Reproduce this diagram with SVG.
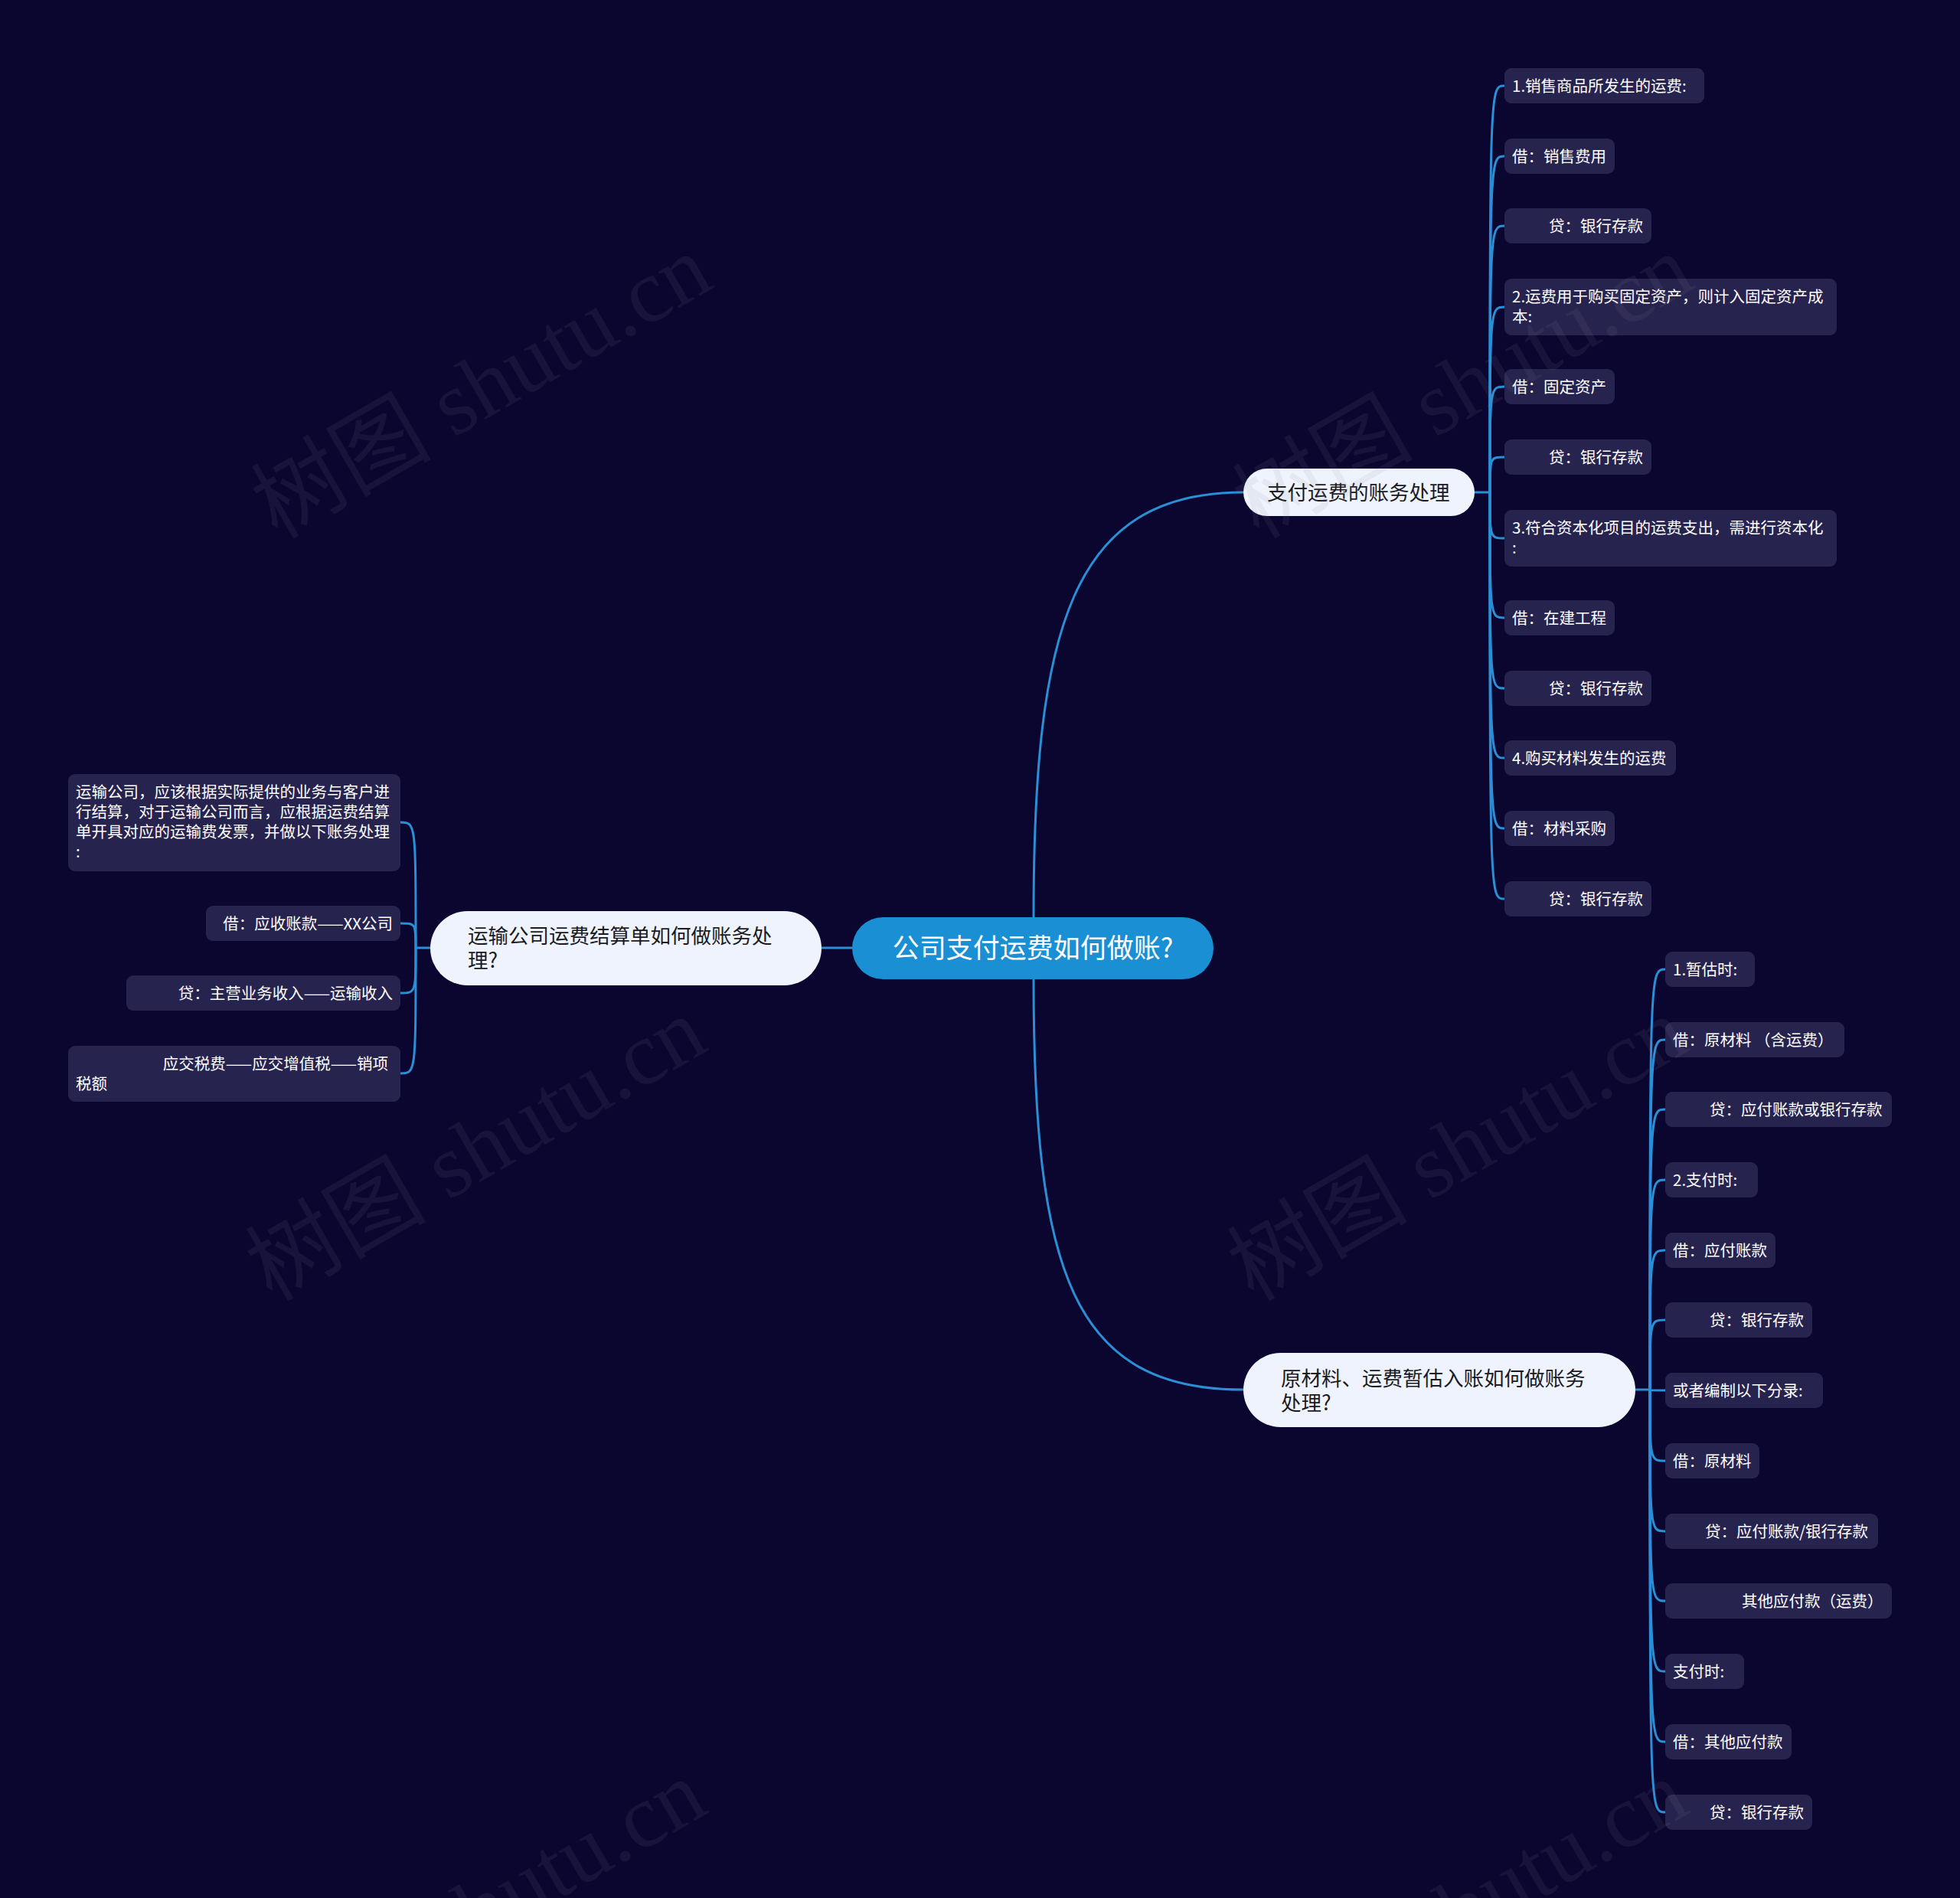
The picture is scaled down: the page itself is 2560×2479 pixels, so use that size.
<svg xmlns="http://www.w3.org/2000/svg" width="2560" height="2479" viewBox="0 0 2560 2479">
<defs>
<style>
.bg{fill:#0b0630}
.leaf{fill:#27234f}
.lt{font-family:"Noto Sans CJK SC","Noto Sans",sans-serif;font-size:20.5px;fill:#ffffff}
.br{fill:#eef3fd}
.bt{font-family:"Noto Sans CJK SC","Noto Sans",sans-serif;font-size:26.5px;fill:#1b1b1f}
.conn{fill:none;stroke:#2b8fd6;stroke-width:3}
.wm{font-family:"Liberation Serif","Noto Sans CJK SC",serif;font-size:118px;fill:#8a8a9a;fill-opacity:0.1}
</style>
</defs>
<rect class="bg" x="0" y="0" width="2560" height="2479"/>

<g id="connectors">
<path class="conn" d="M1350 1198 C1350 820 1400 643 1624 643"/>
<path class="conn" d="M1350 1279 C1350 1660 1400 1815 1624 1815"/>
<path class="conn" d="M1113 1238 H1073"/>
<path class="conn" d="M1926 643 H1946"/>
<path class="conn" d="M1946 643 C1946 112 1946 112 1965 112"/>
<path class="conn" d="M1946 643 C1946 204 1946 204 1965 204"/>
<path class="conn" d="M1946 643 C1946 295 1946 295 1965 295"/>
<path class="conn" d="M1946 643 C1946 401 1946 401 1965 401"/>
<path class="conn" d="M1946 643 C1946 505 1946 505 1965 505"/>
<path class="conn" d="M1946 643 C1946 597 1946 597 1965 597"/>
<path class="conn" d="M1946 643 C1946 703 1946 703 1965 703"/>
<path class="conn" d="M1946 643 C1946 807 1946 807 1965 807"/>
<path class="conn" d="M1946 643 C1946 899 1946 899 1965 899"/>
<path class="conn" d="M1946 643 C1946 990 1946 990 1965 990"/>
<path class="conn" d="M1946 643 C1946 1082 1946 1082 1965 1082"/>
<path class="conn" d="M1946 643 C1946 1174 1946 1174 1965 1174"/>
<path class="conn" d="M562 1238 H543"/>
<path class="conn" d="M543 1238 C543 1074 543 1074 523 1074"/>
<path class="conn" d="M543 1238 C543 1206 543 1206 523 1206"/>
<path class="conn" d="M543 1238 C543 1297 543 1297 523 1297"/>
<path class="conn" d="M543 1238 C543 1402 543 1402 523 1402"/>
<path class="conn" d="M2136 1815 H2155"/>
<path class="conn" d="M2155 1815 C2155 1266 2155 1266 2175 1266"/>
<path class="conn" d="M2155 1815 C2155 1358 2155 1358 2175 1358"/>
<path class="conn" d="M2155 1815 C2155 1449 2155 1449 2175 1449"/>
<path class="conn" d="M2155 1815 C2155 1541 2155 1541 2175 1541"/>
<path class="conn" d="M2155 1815 C2155 1633 2155 1633 2175 1633"/>
<path class="conn" d="M2155 1815 C2155 1724 2155 1724 2175 1724"/>
<path class="conn" d="M2155 1815 C2155 1816 2155 1816 2175 1816"/>
<path class="conn" d="M2155 1815 C2155 1908 2155 1908 2175 1908"/>
<path class="conn" d="M2155 1815 C2155 2000 2155 2000 2175 2000"/>
<path class="conn" d="M2155 1815 C2155 2091 2155 2091 2175 2091"/>
<path class="conn" d="M2155 1815 C2155 2183 2155 2183 2175 2183"/>
<path class="conn" d="M2155 1815 C2155 2275 2155 2275 2175 2275"/>
<path class="conn" d="M2155 1815 C2155 2367 2155 2367 2175 2367"/>
</g>

<g id="root">
<rect x="1113" y="1198" width="472" height="81" rx="40.5" fill="#1b8fd3"/>
<text x="1349" y="1251" text-anchor="middle" font-family="Noto Sans CJK SC, Noto Sans, sans-serif" font-size="35" fill="#ffffff">公司支付运费如何做账?</text>
</g>

<g id="b1">
<rect class="br" x="1624" y="612" width="302" height="62" rx="31"/>
<text class="bt" x="1655" y="653">支付运费的账务处理</text>
</g>
<g id="b2">
<rect class="br" x="562" y="1190" width="511" height="97" rx="48.5"/>
<text class="bt" x="611" y="1232">运输公司运费结算单如何做账务处</text>
<text class="bt" x="611" y="1264">理?</text>
</g>
<g id="b3">
<rect class="br" x="1624" y="1767" width="512" height="97" rx="48.5"/>
<text class="bt" x="1673" y="1810">原材料、运费暂估入账如何做账务</text>
<text class="bt" x="1673" y="1842">处理?</text>
</g>

<g id="t1"><rect class="leaf" x="1965" y="89" width="261" height="46" rx="9"/><text class="lt" x="1975" y="120">1.销售商品所发生的运费:</text></g>
<g id="t2"><rect class="leaf" x="1965" y="181" width="144" height="46" rx="9"/><text class="lt" x="1975" y="212">借：销售费用</text></g>
<g id="t3"><rect class="leaf" x="1965" y="272" width="192" height="46" rx="9"/><text class="lt" x="2023" y="303">贷：银行存款</text></g>
<g id="t4"><rect class="leaf" x="1965" y="364" width="434" height="74" rx="9"/><text class="lt" x="1975" y="395">2.运费用于购买固定资产，则计入固定资产成</text><text class="lt" x="1975" y="421">本:</text></g>
<g id="t5"><rect class="leaf" x="1965" y="482" width="144" height="46" rx="9"/><text class="lt" x="1975" y="513">借：固定资产</text></g>
<g id="t6"><rect class="leaf" x="1965" y="574" width="192" height="46" rx="9"/><text class="lt" x="2023" y="605">贷：银行存款</text></g>
<g id="t7"><rect class="leaf" x="1965" y="666" width="434" height="74" rx="9"/><text class="lt" x="1975" y="697">3.符合资本化项目的运费支出，需进行资本化</text><text class="lt" x="1975" y="723">:</text></g>
<g id="t8"><rect class="leaf" x="1965" y="784" width="144" height="46" rx="9"/><text class="lt" x="1975" y="815">借：在建工程</text></g>
<g id="t9"><rect class="leaf" x="1965" y="876" width="192" height="46" rx="9"/><text class="lt" x="2023" y="907">贷：银行存款</text></g>
<g id="t10"><rect class="leaf" x="1965" y="967" width="224" height="46" rx="9"/><text class="lt" x="1975" y="998">4.购买材料发生的运费</text></g>
<g id="t11"><rect class="leaf" x="1965" y="1059" width="144" height="46" rx="9"/><text class="lt" x="1975" y="1090">借：材料采购</text></g>
<g id="t12"><rect class="leaf" x="1965" y="1151" width="192" height="46" rx="9"/><text class="lt" x="2023" y="1182">贷：银行存款</text></g>

<g id="l1"><rect class="leaf" x="89" y="1011" width="434" height="127" rx="9"/>
<text class="lt" x="99" y="1042">运输公司，应该根据实际提供的业务与客户进</text>
<text class="lt" x="99" y="1068">行结算，对于运输公司而言，应根据运费结算</text>
<text class="lt" x="99" y="1094">单开具对应的运输费发票，并做以下账务处理</text>
<text class="lt" x="99" y="1120">:</text></g>
<g id="l2"><rect class="leaf" x="269" y="1183" width="254" height="46" rx="9"/><text class="lt" x="513" y="1214" text-anchor="end">借：应收账款——XX公司</text></g>
<g id="l3"><rect class="leaf" x="165" y="1274" width="358" height="46" rx="9"/><text class="lt" x="513" y="1305" text-anchor="end">贷：主营业务收入——运输收入</text></g>
<g id="l4"><rect class="leaf" x="89" y="1366" width="434" height="73" rx="9"/>
<text class="lt" x="507" y="1397" text-anchor="end">应交税费——应交增值税——销项</text>
<text class="lt" x="99" y="1423">税额</text></g>

<g id="r1"><rect class="leaf" x="2175" y="1243" width="117" height="46" rx="9"/><text class="lt" x="2185" y="1274">1.暂估时:</text></g>
<g id="r2"><rect class="leaf" x="2175" y="1335" width="234" height="46" rx="9"/><text class="lt" x="2185" y="1366">借：原材料 （含运费）</text></g>
<g id="r3"><rect class="leaf" x="2175" y="1426" width="296" height="46" rx="9"/><text class="lt" x="2233" y="1457">贷：应付账款或银行存款</text></g>
<g id="r4"><rect class="leaf" x="2175" y="1518" width="121" height="46" rx="9"/><text class="lt" x="2185" y="1549">2.支付时:</text></g>
<g id="r5"><rect class="leaf" x="2175" y="1610" width="144" height="46" rx="9"/><text class="lt" x="2185" y="1641">借：应付账款</text></g>
<g id="r6"><rect class="leaf" x="2175" y="1701" width="192" height="46" rx="9"/><text class="lt" x="2233" y="1732">贷：银行存款</text></g>
<g id="r7"><rect class="leaf" x="2175" y="1793" width="206" height="46" rx="9"/><text class="lt" x="2185" y="1824">或者编制以下分录:</text></g>
<g id="r8"><rect class="leaf" x="2175" y="1885" width="123" height="46" rx="9"/><text class="lt" x="2185" y="1916">借：原材料</text></g>
<g id="r9"><rect class="leaf" x="2175" y="1977" width="278" height="46" rx="9"/><text class="lt" x="2227" y="2008">贷：应付账款/银行存款</text></g>
<g id="r10"><rect class="leaf" x="2175" y="2068" width="296" height="46" rx="9"/><text class="lt" x="2275" y="2099">其他应付款（运费）</text></g>
<g id="r11"><rect class="leaf" x="2175" y="2160" width="103" height="46" rx="9"/><text class="lt" x="2185" y="2191">支付时:</text></g>
<g id="r12"><rect class="leaf" x="2175" y="2252" width="165" height="46" rx="9"/><text class="lt" x="2185" y="2283">借：其他应付款</text></g>
<g id="r13"><rect class="leaf" x="2175" y="2344" width="192" height="46" rx="9"/><text class="lt" x="2233" y="2375">贷：银行存款</text></g>

<g id="watermarks">
<text class="wm" transform="translate(362 705) rotate(-30)">树图 shutu.cn</text>
<text class="wm" transform="translate(355 1701) rotate(-30)">树图 shutu.cn</text>
<text class="wm" transform="translate(355 2697) rotate(-30)">树图 shutu.cn</text>
<text class="wm" transform="translate(1644 705) rotate(-30)">树图 shutu.cn</text>
<text class="wm" transform="translate(1637 1701) rotate(-30)">树图 shutu.cn</text>
<text class="wm" transform="translate(1637 2697) rotate(-30)">树图 shutu.cn</text>
</g>
</svg>
